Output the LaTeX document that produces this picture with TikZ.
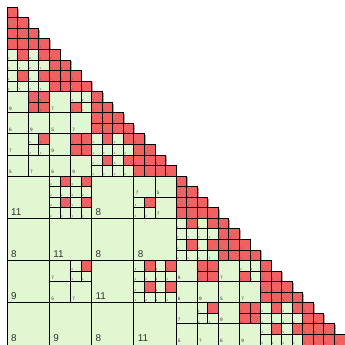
\documentclass[tikz,border=0pt]{standalone}
\usepackage{fontspec}
\setmainfont{Liberation Sans}
\usepackage{xcolor}
\usepackage{tikz}
\definecolor{lowfill}{HTML}{E0F7D1}
\definecolor{densefill}{HTML}{F06262}
\definecolor{densemark}{HTML}{9B2C2C}
\definecolor{rankgray}{HTML}{333333}

% red (dense) cell at row #1, column #2
\newcommand{\densecell}[2]{%
  \pgfmathtruncatemacro\rr{#1}\pgfmathtruncatemacro\cc{#2}%
  \filldraw[dense] (\cc,-\rr) rectangle ++(1,-1);
  \node[mark1, text=densemark] (d\rr-\cc) at (\cc,-\rr-1) {1};}
% green 1x1 low-rank cell
\newcommand{\lowcell}[2]{%
  \pgfmathtruncatemacro\rr{#1}\pgfmathtruncatemacro\cc{#2}%
  \filldraw[lowrank] (\cc,-\rr) rectangle ++(1,-1);
  \node[mark1, text=rankgray] (g\rr-\cc) at (\cc,-\rr-1) {2};}
% green block: row, col, size, rank
\newcommand{\lowblock}[4]{%
  \pgfmathtruncatemacro\rr{#1}\pgfmathtruncatemacro\cc{#2}%
  \filldraw[lowrank] (\cc,-\rr) rectangle ++(#3,-#3);
  \node[rank#3] (b\rr-\cc) at (\cc,-\rr-#3) {#4};}
% dense lower triangle of a 4x4 diagonal block
\newcommand{\densetri}[1]{%
  \foreach \i in {0,...,3}{\foreach \j in {0,...,\i}{\densecell{#1+\i}{#1+\j}}}}
% dense 2x2 square
\newcommand{\densesq}[2]{%
  \foreach \i in {0,1}{\foreach \j in {0,1}{\densecell{#1+\i}{#2+\j}}}}
% 4x4 of single cells, red on even rows / odd columns
\newcommand{\finegrid}[2]{%
  \foreach \i in {0,...,3}{\foreach \j in {0,...,3}{%
    \pgfmathtruncatemacro\pick{mod(\j,2)*(1-mod(\i,2))}%
    \ifnum\pick=1 \densecell{#1+\i}{#2+\j}\else\lowcell{#1+\i}{#2+\j}\fi}}}
% 2x2 of single cells, one red at (#3,#4)
\newcommand{\finepair}[4]{%
  \foreach \i in {0,1}{\foreach \j in {0,1}{%
    \pgfmathtruncatemacro\pick{(\i==#3)*(\j==#4)}%
    \ifnum\pick=1 \densecell{#1+\i}{#2+\j}\else\lowcell{#1+\i}{#2+\j}\fi}}}

\begin{document}
\begin{tikzpicture}[x=3mm, y=3mm,
  lowrank/.style={fill=lowfill, draw=black, line width=0.75pt},
  dense/.style={fill=densefill, draw=black, line width=0.75pt},
  shade/.style={fill=black, opacity=0.35},
  rank4/.style={anchor=base west, inner sep=0pt, xshift=1.05mm, yshift=0.9mm, text=rankgray, font=\fontsize{8}{8}\selectfont},
  rank2/.style={anchor=base west, inner sep=0pt, xshift=0.45mm, yshift=0.7mm, text=rankgray, font=\fontsize{3.8}{4}\selectfont},
  mark1/.style={anchor=base west, inner sep=0pt, xshift=0.2mm, yshift=0.25mm, font=\fontsize{2.2}{2.5}\selectfont}
]
\useasboundingbox (-0.69,-31.93) rectangle (32,0.69);
% shadow along the diagonal
\foreach \k in {0,...,31}
  \fill[shade] (\k+0.12,-\k-0.12) rectangle ++(1,-1);
% the two 16x16 diagonal blocks
\foreach \o in {0,16}{
  \foreach \k in {0,4,8,12}{\densetri{\o+\k}}
  \finegrid{\o+4}{\o}
  \finegrid{\o+12}{\o+8}
  \lowblock{\o+8}{\o}{2}{9}
  \densesq{\o+8}{\o+2}
  \lowblock{\o+8}{\o+4}{2}{7}
  \finepair{\o+8}{\o+6}{1}{0}
  \foreach \cl/\rk in {0/6,2/9,4/5,6/7}{\lowblock{\o+10}{\o+\cl}{2}{\rk}}
  \lowblock{\o+12}{\o}{2}{7}
  \finepair{\o+12}{\o+2}{0}{1}
  \lowblock{\o+12}{\o+4}{2}{9}
  \densesq{\o+12}{\o+6}
  \foreach \cl/\rk in {0/5,2/7,4/6,6/9}{\lowblock{\o+14}{\o+\cl}{2}{\rk}}
}
% lower left 16x16 block
\lowblock{16}{0}{4}{11}
\finegrid{16}{4}
\lowblock{16}{8}{4}{8}
\lowblock{16}{12}{2}{7}
\lowblock{16}{14}{2}{5}
\finepair{18}{12}{0}{1}
\lowblock{18}{14}{2}{7}
\foreach \cl/\rk in {0/8,4/11,8/8,12/8}{\lowblock{20}{\cl}{4}{\rk}}
\lowblock{24}{0}{4}{9}
\lowblock{24}{4}{2}{7}
\finepair{24}{6}{0}{1}
\lowblock{26}{4}{2}{5}
\lowblock{26}{6}{2}{7}
\lowblock{24}{8}{4}{11}
\finegrid{24}{12}
\foreach \cl/\rk in {0/8,4/9,8/8,12/11}{\lowblock{28}{\cl}{4}{\rk}}
\end{tikzpicture}
\end{document}
